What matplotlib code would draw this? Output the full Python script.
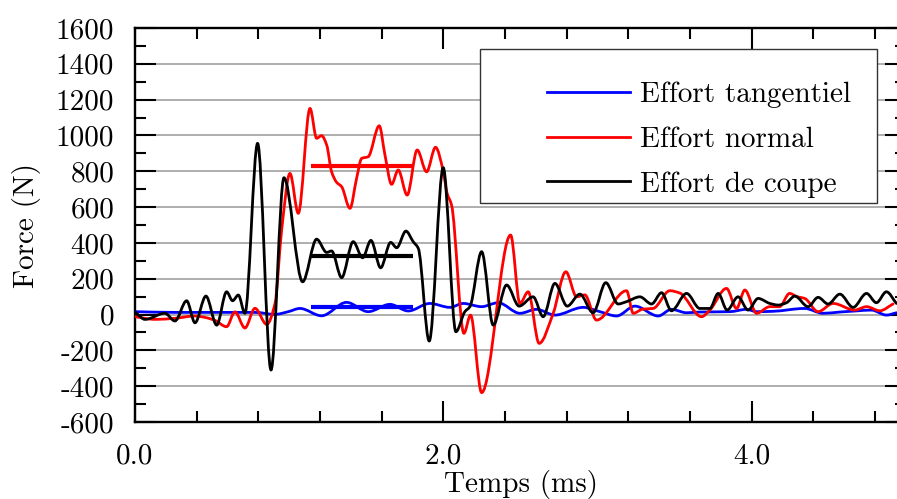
import numpy as np
import matplotlib
matplotlib.use("Agg")
import matplotlib.pyplot as plt
from matplotlib.path import Path
from matplotlib.patches import PathPatch, Rectangle
from matplotlib.lines import Line2D
from matplotlib.ticker import MultipleLocator, FuncFormatter

plt.rcParams['font.family'] = ['cmr10', 'DejaVu Serif']
plt.rcParams['axes.unicode_minus'] = False

# ---------------- data ----------------
t_tang = [0.000, 0.259, 0.519, 0.778, 0.908, 0.994, 1.070, 1.210, 1.372, 1.512,
          1.653, 1.772, 1.912, 2.042, 2.128, 2.248, 2.355, 2.496, 2.604, 2.723,
          2.906, 3.015, 3.123, 3.242, 3.393, 3.479, 3.577, 3.663, 3.857, 3.966,
          4.031, 4.136, 4.343, 4.462, 4.571, 4.674, 4.776, 4.873, 4.938]
f_tang = [16, 12, 12, 12, 1, 16, 34, -7, 68, 16,
          57, 20, 62, 40, 62, 44, 66, 7, 29, -3,
          40, 16, -8, 47, -8, 29, 10, 14, 16, 29,
          16, 18, 34, 7, 14, 20, 25, -3, 10]

t_norm = [0.000, 0.130, 0.259, 0.389, 0.454, 0.519, 0.594, 0.648, 0.713, 0.778,
          0.854, 0.908, 0.951, 1.005, 1.059, 1.135, 1.178, 1.210, 1.243, 1.275,
          1.308, 1.340, 1.394, 1.437, 1.470, 1.512, 1.584, 1.621, 1.664, 1.707,
          1.765, 1.830, 1.891, 1.949, 1.999, 2.023, 2.053, 2.133, 2.176, 2.248,
          2.436, 2.496, 2.550, 2.621, 2.712, 2.794, 2.864, 2.917, 2.993, 3.188,
          3.231, 3.293, 3.360, 3.468, 3.533, 3.674, 3.728, 3.836, 3.901, 3.955,
          4.031, 4.117, 4.180, 4.245, 4.292, 4.343, 4.430, 4.527, 4.668, 4.744,
          4.830, 4.916]
f_norm = [-12, -27, -21, -8, -16, -33, -68, 15, -75, 35,
          -55, 62, 472, 788, 565, 1151, 984, 999, 947, 797,
          738, 714, 593, 760, 872, 881, 1054, 891, 727, 807,
          667, 919, 797, 934, 800, 680, 611, -105, -3, -436,
          444, 62, 127, -161, 7, 239, 99, 110, -31, 133,
          7, 30, 34, 133, 120, -12, 25, 146, 34, 137,
          7, 44, 44, 118, 100, 90, 16, 62, 25, 44,
          21, 59]

t_coupe = [0.000, 0.065, 0.194, 0.259, 0.335, 0.389, 0.460, 0.530, 0.594, 0.633,
           0.670, 0.713, 0.795, 0.882, 0.966, 1.087, 1.178, 1.243, 1.275, 1.340,
           1.415, 1.476, 1.530, 1.593, 1.658, 1.697, 1.757, 1.804, 1.837, 1.908,
           1.999, 2.081, 2.139, 2.172, 2.248, 2.323, 2.410, 2.491, 2.582, 2.647,
           2.723, 2.803, 2.885, 2.971, 3.053, 3.133, 3.188, 3.274, 3.350, 3.415,
           3.479, 3.577, 3.663, 3.728, 3.782, 3.840, 3.911, 3.976, 4.041, 4.117,
           4.171, 4.225, 4.279, 4.365, 4.430, 4.495, 4.571, 4.657, 4.744, 4.808,
           4.873, 4.938]
f_coupe = [15, -27, 7, -36, 77, -46, 103, -59, 127, 77,
           109, 7, 956, -310, 764, 183, 421, 347, 355, 206,
           407, 317, 414, 261, 403, 373, 466, 407, 370, -148,
           820, -96, 16, 44, 351, -59, 165, 47, 99, -12,
           174, 47, 114, 10, 178, 59, 72, 99, 59, 122,
           21, 118, 34, 34, 118, 25, 99, 25, 90, 62,
           53, 66, 103, 44, 96, 59, 114, 40, 118, 66,
           127, 62]

# mean levels over the steady cutting window
mean_t = [1.14, 1.80]
mean_tang = 40
mean_norm = 831
mean_coupe = 329

labels = ["Effort tangentiel", "Effort normal", "Effort de coupe"]
colors = ["#0000ff", "#ff0000", "#000000"]

# ---------------- helpers ----------------
def smooth_path(x, y):
    """Cubic Bezier path through the read points (monotone tangents)."""
    x = np.asarray(x, float)
    y = np.asarray(y, float)
    n = len(x)
    h = np.diff(x)
    d = np.diff(y) / h
    m = np.zeros(n)
    m[0], m[-1] = d[0], d[-1]
    for k in range(1, n - 1):
        if d[k - 1] * d[k] <= 0:
            m[k] = 0.0
        else:
            w1 = 2 * h[k] + h[k - 1]
            w2 = h[k] + 2 * h[k - 1]
            m[k] = (w1 + w2) / (w1 / d[k - 1] + w2 / d[k])
    verts = [(x[0], y[0])]
    codes = [Path.MOVETO]
    for k in range(n - 1):
        verts += [(x[k] + h[k] / 3, y[k] + m[k] * h[k] / 3),
                  (x[k + 1] - h[k] / 3, y[k + 1] - m[k + 1] * h[k] / 3),
                  (x[k + 1], y[k + 1])]
        codes += [Path.CURVE4] * 3
    return Path(verts, codes)

# ---------------- figure ----------------
W, H = 897, 499
FS = 21
fig = plt.figure(figsize=(W / 100, H / 100), dpi=100)
x0, x1, ytop, ybot = 135, 906, 28, 422
ax = fig.add_axes([x0 / W, 1 - ybot / H, (x1 - x0) / W, (ybot - ytop) / H])
ax.set_xlim(0, 5.0)
ax.set_ylim(-600, 1600)

lw = 2.0
for (tt, ff), c in zip([(t_tang, f_tang), (t_norm, f_norm), (t_coupe, f_coupe)], colors):
    ax.add_patch(PathPatch(smooth_path(tt, ff), facecolor='none', edgecolor=c,
                           lw=lw, zorder=3, capstyle='round', joinstyle='round'))

for v, c in zip([mean_tang, mean_norm, mean_coupe], colors):
    ax.plot(mean_t, [v, v], color=c, lw=3.0, solid_capstyle='butt', zorder=4)

ax.yaxis.grid(True, color='#999999', lw=1.1, zorder=1)
ax.set_axisbelow(True)

ax.xaxis.set_major_locator(MultipleLocator(2.0))
ax.xaxis.set_minor_locator(MultipleLocator(0.4))
ax.yaxis.set_major_locator(MultipleLocator(200))
ax.yaxis.set_minor_locator(MultipleLocator(100))
ax.xaxis.set_major_formatter(FuncFormatter(lambda v, p: "%.1f" % v))
ax.yaxis.set_major_formatter(FuncFormatter(lambda v, p: "%d" % round(v)))
ax.tick_params(which='both', direction='in', top=True, right=True, width=1.5,
               labelsize=FS, color='black')
ax.tick_params(which='major', length=15, pad=15)
ax.tick_params(which='minor', length=7.8)
for s in ax.spines.values():
    s.set_linewidth(1.7)

ax.set_xlabel("Temps (ms)", fontsize=FS)
ax.set_ylabel("Force (N)", fontsize=FS)
ax.xaxis.set_label_coords(0.5, -0.122)
ax.yaxis.set_label_coords(-0.122, 0.5)

# legend frame + entries
bx0, bx1, by0, by1 = 480, 877, 49, 203
ax.add_patch(Rectangle(((bx0 - x0) / (x1 - x0), (ybot - by1) / (ybot - ytop)),
                       (bx1 - bx0) / (x1 - x0), (by1 - by0) / (ybot - ytop),
                       transform=ax.transAxes, facecolor='white', edgecolor='#333333',
                       lw=1.0, zorder=5))
handles = [Line2D([], [], color=c, lw=lw) for c in colors]
leg = ax.legend(handles, labels, loc='upper left', frameon=False, fontsize=FS,
                bbox_to_anchor=((547 - x0) / (x1 - x0), (ybot - 82) / (ybot - ytop)),
                borderpad=0, borderaxespad=0, handlelength=2.85, handletextpad=0.34,
                labelspacing=0.62)
leg.set_zorder(6)

fig.savefig("out.png", dpi=100)
